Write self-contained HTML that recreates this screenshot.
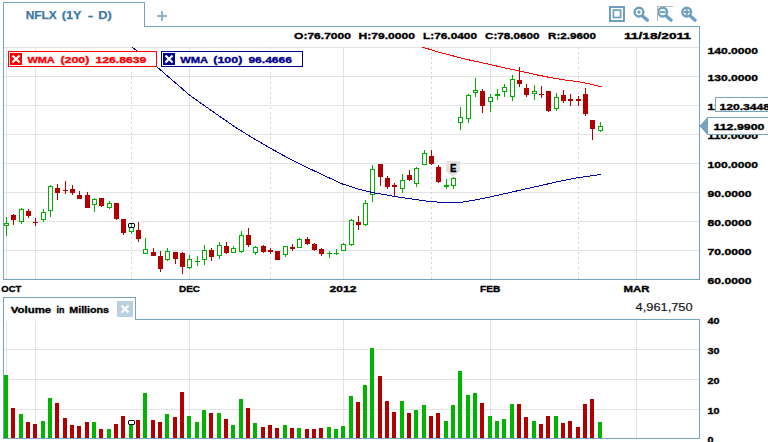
<!DOCTYPE html><html><head><meta charset="utf-8"><style>html,body{margin:0;padding:0;background:#fff}body{width:768px;height:442px;overflow:hidden;font-family:"Liberation Sans",sans-serif}</style></head><body>
<svg width="768" height="442" viewBox="0 0 768 442" style="display:block" font-family="Liberation Sans, sans-serif">
<rect width="768" height="442" fill="#fff"/>
<g shape-rendering="crispEdges">
<rect x="4" y="47" width="695" height="1" fill="#e3e3e3"/>
<rect x="4" y="76" width="695" height="1" fill="#e3e3e3"/>
<rect x="4" y="105" width="695" height="1" fill="#e3e3e3"/>
<rect x="4" y="134" width="695" height="1" fill="#e3e3e3"/>
<rect x="4" y="163" width="695" height="1" fill="#e3e3e3"/>
<rect x="4" y="192" width="695" height="1" fill="#e3e3e3"/>
<rect x="4" y="221" width="695" height="1" fill="#e3e3e3"/>
<rect x="4" y="250" width="695" height="1" fill="#e3e3e3"/>
<rect x="6" y="47" width="1" height="232" fill="#e3e3e3"/>
<rect x="6" y="321" width="1" height="117" fill="#e3e3e3"/>
<rect x="35" y="47" width="1" height="232" fill="#e3e3e3"/>
<rect x="35" y="321" width="1" height="117" fill="#e3e3e3"/>
<rect x="189" y="47" width="1" height="232" fill="#e3e3e3"/>
<rect x="189" y="320" width="1" height="118" fill="#e3e3e3"/>
<rect x="343" y="47" width="1" height="232" fill="#e3e3e3"/>
<rect x="343" y="320" width="1" height="118" fill="#e3e3e3"/>
<rect x="490" y="47" width="1" height="232" fill="#e3e3e3"/>
<rect x="490" y="320" width="1" height="118" fill="#e3e3e3"/>
<rect x="636" y="47" width="1" height="232" fill="#e3e3e3"/>
<rect x="636" y="320" width="1" height="118" fill="#e3e3e3"/>
<line x1="131.5" y1="47" x2="131.5" y2="279" stroke="#d4d4d4" stroke-width="1" stroke-dasharray="2,3"/>
<line x1="270.5" y1="47" x2="270.5" y2="279" stroke="#d4d4d4" stroke-width="1" stroke-dasharray="2,3"/>
<line x1="431.5" y1="47" x2="431.5" y2="279" stroke="#d4d4d4" stroke-width="1" stroke-dasharray="2,3"/>
<line x1="578.5" y1="47" x2="578.5" y2="279" stroke="#d4d4d4" stroke-width="1" stroke-dasharray="2,3"/>
<rect x="4" y="349" width="695" height="1" fill="#e3e3e3"/>
<rect x="4" y="379" width="695" height="1" fill="#e3e3e3"/>
<rect x="4" y="409" width="695" height="1" fill="#e3e3e3"/>
<rect x="3" y="2" width="1" height="278" fill="#76a3be"/>
<rect x="3" y="2" width="142" height="1" fill="#76a3be"/>
<rect x="144" y="2" width="1" height="25" fill="#76a3be"/>
<rect x="144" y="26" width="556" height="1" fill="#76a3be"/>
<rect x="699" y="26" width="1" height="254" fill="#76a3be"/>
<rect x="3" y="279" width="697" height="1" fill="#76a3be"/>
<rect x="3" y="297" width="1" height="142" fill="#76a3be"/>
<rect x="3" y="297" width="133" height="1" fill="#76a3be"/>
<rect x="135" y="297" width="1" height="23" fill="#76a3be"/>
<rect x="135" y="319" width="565" height="1" fill="#76a3be"/>
<rect x="699" y="319" width="1" height="120" fill="#76a3be"/>
<rect x="3" y="438" width="697" height="1" fill="#76a3be"/>
</g>
<g shape-rendering="crispEdges">
<rect x="6" y="217" width="1" height="19" fill="#00b000"/>
<rect x="4" y="223" width="5" height="3" fill="#00b000"/>
<rect x="5" y="224" width="3" height="1" fill="#fff"/>
<rect x="13" y="214" width="1" height="11" fill="#b00000"/>
<rect x="11" y="215" width="5" height="5" fill="#b00000"/>
<rect x="21" y="208" width="1" height="16" fill="#00b000"/>
<rect x="19" y="209" width="5" height="13" fill="#00b000"/>
<rect x="20" y="210" width="3" height="11" fill="#fff"/>
<rect x="28" y="209" width="1" height="9" fill="#b00000"/>
<rect x="26" y="211" width="5" height="5" fill="#b00000"/>
<rect x="35" y="218" width="1" height="8" fill="#b00000"/>
<rect x="33" y="222" width="5" height="1" fill="#b00000"/>
<rect x="43" y="209" width="1" height="13" fill="#00b000"/>
<rect x="41" y="212" width="5" height="8" fill="#00b000"/>
<rect x="42" y="213" width="3" height="6" fill="#fff"/>
<rect x="50" y="185" width="1" height="32" fill="#00b000"/>
<rect x="48" y="186" width="5" height="25" fill="#00b000"/>
<rect x="49" y="187" width="3" height="23" fill="#fff"/>
<rect x="57" y="184" width="1" height="16" fill="#b00000"/>
<rect x="55" y="188" width="5" height="5" fill="#b00000"/>
<rect x="65" y="181" width="1" height="13" fill="#b00000"/>
<rect x="63" y="190" width="5" height="1" fill="#b00000"/>
<rect x="72" y="185" width="1" height="10" fill="#b00000"/>
<rect x="70" y="189" width="5" height="4" fill="#b00000"/>
<rect x="79" y="191" width="1" height="8" fill="#b00000"/>
<rect x="77" y="195" width="5" height="4" fill="#b00000"/>
<rect x="87" y="192" width="1" height="16" fill="#b00000"/>
<rect x="85" y="195" width="5" height="13" fill="#b00000"/>
<rect x="94" y="198" width="1" height="14" fill="#00b000"/>
<rect x="92" y="199" width="5" height="6" fill="#00b000"/>
<rect x="93" y="200" width="3" height="4" fill="#fff"/>
<rect x="101" y="198" width="1" height="9" fill="#b00000"/>
<rect x="99" y="198" width="5" height="8" fill="#b00000"/>
<rect x="109" y="201" width="1" height="8" fill="#00b000"/>
<rect x="107" y="203" width="5" height="5" fill="#00b000"/>
<rect x="108" y="204" width="3" height="3" fill="#fff"/>
<rect x="116" y="203" width="1" height="17" fill="#b00000"/>
<rect x="114" y="203" width="5" height="16" fill="#b00000"/>
<rect x="123" y="219" width="1" height="16" fill="#b00000"/>
<rect x="121" y="219" width="5" height="14" fill="#b00000"/>
<rect x="131" y="224" width="1" height="10" fill="#00b000"/>
<rect x="129" y="227" width="5" height="5" fill="#00b000"/>
<rect x="130" y="228" width="3" height="3" fill="#fff"/>
<rect x="138" y="222" width="1" height="20" fill="#b00000"/>
<rect x="136" y="230" width="5" height="9" fill="#b00000"/>
<rect x="145" y="238" width="1" height="16" fill="#00b000"/>
<rect x="143" y="249" width="5" height="5" fill="#00b000"/>
<rect x="144" y="250" width="3" height="3" fill="#fff"/>
<rect x="153" y="248" width="1" height="8" fill="#b00000"/>
<rect x="151" y="252" width="5" height="4" fill="#b00000"/>
<rect x="160" y="251" width="1" height="21" fill="#b00000"/>
<rect x="158" y="256" width="5" height="13" fill="#b00000"/>
<rect x="167" y="248" width="1" height="13" fill="#00b000"/>
<rect x="165" y="251" width="5" height="9" fill="#00b000"/>
<rect x="166" y="252" width="3" height="7" fill="#fff"/>
<rect x="175" y="252" width="1" height="12" fill="#b00000"/>
<rect x="173" y="252" width="5" height="7" fill="#b00000"/>
<rect x="182" y="252" width="1" height="22" fill="#b00000"/>
<rect x="180" y="253" width="5" height="14" fill="#b00000"/>
<rect x="189" y="255" width="1" height="14" fill="#00b000"/>
<rect x="187" y="259" width="5" height="9" fill="#00b000"/>
<rect x="188" y="260" width="3" height="7" fill="#fff"/>
<rect x="197" y="256" width="1" height="10" fill="#00b000"/>
<rect x="195" y="261" width="5" height="1" fill="#00b000"/>
<rect x="204" y="245" width="1" height="20" fill="#00b000"/>
<rect x="202" y="250" width="5" height="10" fill="#00b000"/>
<rect x="203" y="251" width="3" height="8" fill="#fff"/>
<rect x="211" y="248" width="1" height="13" fill="#b00000"/>
<rect x="209" y="250" width="5" height="7" fill="#b00000"/>
<rect x="219" y="242" width="1" height="17" fill="#00b000"/>
<rect x="217" y="245" width="5" height="11" fill="#00b000"/>
<rect x="218" y="246" width="3" height="9" fill="#fff"/>
<rect x="226" y="242" width="1" height="12" fill="#b00000"/>
<rect x="224" y="246" width="5" height="7" fill="#b00000"/>
<rect x="233" y="246" width="1" height="7" fill="#00b000"/>
<rect x="231" y="248" width="5" height="5" fill="#00b000"/>
<rect x="232" y="249" width="3" height="3" fill="#fff"/>
<rect x="241" y="231" width="1" height="22" fill="#00b000"/>
<rect x="239" y="235" width="5" height="17" fill="#00b000"/>
<rect x="240" y="236" width="3" height="15" fill="#fff"/>
<rect x="248" y="228" width="1" height="19" fill="#b00000"/>
<rect x="246" y="235" width="5" height="10" fill="#b00000"/>
<rect x="255" y="246" width="1" height="9" fill="#00b000"/>
<rect x="253" y="247" width="5" height="6" fill="#00b000"/>
<rect x="254" y="248" width="3" height="4" fill="#fff"/>
<rect x="263" y="245" width="1" height="8" fill="#b00000"/>
<rect x="261" y="246" width="5" height="6" fill="#b00000"/>
<rect x="270" y="248" width="1" height="6" fill="#b00000"/>
<rect x="268" y="250" width="5" height="2" fill="#b00000"/>
<rect x="277" y="251" width="1" height="9" fill="#b00000"/>
<rect x="275" y="251" width="5" height="9" fill="#b00000"/>
<rect x="285" y="246" width="1" height="11" fill="#00b000"/>
<rect x="283" y="246" width="5" height="9" fill="#00b000"/>
<rect x="284" y="247" width="3" height="7" fill="#fff"/>
<rect x="292" y="244" width="1" height="7" fill="#b00000"/>
<rect x="290" y="247" width="5" height="2" fill="#b00000"/>
<rect x="299" y="238" width="1" height="10" fill="#00b000"/>
<rect x="297" y="239" width="5" height="9" fill="#00b000"/>
<rect x="298" y="240" width="3" height="7" fill="#fff"/>
<rect x="307" y="237" width="1" height="8" fill="#b00000"/>
<rect x="305" y="239" width="5" height="5" fill="#b00000"/>
<rect x="314" y="243" width="1" height="8" fill="#b00000"/>
<rect x="312" y="244" width="5" height="6" fill="#b00000"/>
<rect x="321" y="248" width="1" height="8" fill="#b00000"/>
<rect x="319" y="249" width="5" height="5" fill="#b00000"/>
<rect x="329" y="251" width="1" height="7" fill="#00b000"/>
<rect x="327" y="253" width="5" height="1" fill="#00b000"/>
<rect x="336" y="249" width="1" height="6" fill="#00b000"/>
<rect x="334" y="253" width="5" height="1" fill="#00b000"/>
<rect x="343" y="243" width="1" height="8" fill="#00b000"/>
<rect x="341" y="244" width="5" height="7" fill="#00b000"/>
<rect x="342" y="245" width="3" height="5" fill="#fff"/>
<rect x="351" y="219" width="1" height="27" fill="#00b000"/>
<rect x="349" y="220" width="5" height="25" fill="#00b000"/>
<rect x="350" y="221" width="3" height="23" fill="#fff"/>
<rect x="358" y="216" width="1" height="14" fill="#b00000"/>
<rect x="356" y="222" width="5" height="3" fill="#b00000"/>
<rect x="365" y="200" width="1" height="26" fill="#00b000"/>
<rect x="363" y="203" width="5" height="22" fill="#00b000"/>
<rect x="364" y="204" width="3" height="20" fill="#fff"/>
<rect x="372" y="165" width="1" height="37" fill="#00b000"/>
<rect x="370" y="169" width="5" height="26" fill="#00b000"/>
<rect x="371" y="170" width="3" height="24" fill="#fff"/>
<rect x="380" y="164" width="1" height="22" fill="#b00000"/>
<rect x="378" y="164" width="5" height="13" fill="#b00000"/>
<rect x="387" y="176" width="1" height="13" fill="#b00000"/>
<rect x="385" y="178" width="5" height="9" fill="#b00000"/>
<rect x="394" y="183" width="1" height="14" fill="#b00000"/>
<rect x="392" y="185" width="5" height="2" fill="#b00000"/>
<rect x="402" y="174" width="1" height="19" fill="#00b000"/>
<rect x="400" y="180" width="5" height="9" fill="#00b000"/>
<rect x="401" y="181" width="3" height="7" fill="#fff"/>
<rect x="409" y="170" width="1" height="11" fill="#b00000"/>
<rect x="407" y="175" width="5" height="5" fill="#b00000"/>
<rect x="416" y="167" width="1" height="20" fill="#00b000"/>
<rect x="414" y="168" width="5" height="16" fill="#00b000"/>
<rect x="415" y="169" width="3" height="14" fill="#fff"/>
<rect x="424" y="150" width="1" height="15" fill="#00b000"/>
<rect x="422" y="153" width="5" height="12" fill="#00b000"/>
<rect x="423" y="154" width="3" height="10" fill="#fff"/>
<rect x="431" y="150" width="1" height="15" fill="#b00000"/>
<rect x="429" y="156" width="5" height="8" fill="#b00000"/>
<rect x="438" y="165" width="1" height="18" fill="#b00000"/>
<rect x="436" y="167" width="5" height="15" fill="#b00000"/>
<rect x="446" y="179" width="1" height="10" fill="#00b000"/>
<rect x="444" y="185" width="5" height="2" fill="#00b000"/>
<rect x="453" y="177" width="1" height="12" fill="#00b000"/>
<rect x="451" y="178" width="5" height="8" fill="#00b000"/>
<rect x="452" y="179" width="3" height="6" fill="#fff"/>
<rect x="460" y="107" width="1" height="23" fill="#00b000"/>
<rect x="458" y="117" width="5" height="6" fill="#00b000"/>
<rect x="459" y="118" width="3" height="4" fill="#fff"/>
<rect x="468" y="94" width="1" height="29" fill="#00b000"/>
<rect x="466" y="95" width="5" height="24" fill="#00b000"/>
<rect x="467" y="96" width="3" height="22" fill="#fff"/>
<rect x="475" y="78" width="1" height="19" fill="#00b000"/>
<rect x="473" y="90" width="5" height="3" fill="#00b000"/>
<rect x="474" y="91" width="3" height="1" fill="#fff"/>
<rect x="482" y="89" width="1" height="24" fill="#b00000"/>
<rect x="480" y="91" width="5" height="15" fill="#b00000"/>
<rect x="490" y="94" width="1" height="18" fill="#00b000"/>
<rect x="488" y="97" width="5" height="5" fill="#00b000"/>
<rect x="489" y="98" width="3" height="3" fill="#fff"/>
<rect x="497" y="89" width="1" height="11" fill="#00b000"/>
<rect x="495" y="94" width="5" height="2" fill="#00b000"/>
<rect x="504" y="84" width="1" height="13" fill="#00b000"/>
<rect x="502" y="87" width="5" height="5" fill="#00b000"/>
<rect x="503" y="88" width="3" height="3" fill="#fff"/>
<rect x="512" y="75" width="1" height="26" fill="#00b000"/>
<rect x="510" y="79" width="5" height="18" fill="#00b000"/>
<rect x="511" y="80" width="3" height="16" fill="#fff"/>
<rect x="519" y="67" width="1" height="20" fill="#b00000"/>
<rect x="517" y="80" width="5" height="4" fill="#b00000"/>
<rect x="526" y="84" width="1" height="13" fill="#b00000"/>
<rect x="524" y="88" width="5" height="7" fill="#b00000"/>
<rect x="534" y="85" width="1" height="15" fill="#00b000"/>
<rect x="532" y="91" width="5" height="3" fill="#00b000"/>
<rect x="533" y="92" width="3" height="1" fill="#fff"/>
<rect x="541" y="86" width="1" height="12" fill="#b00000"/>
<rect x="539" y="94" width="5" height="1" fill="#b00000"/>
<rect x="548" y="91" width="1" height="21" fill="#b00000"/>
<rect x="546" y="91" width="5" height="20" fill="#b00000"/>
<rect x="556" y="93" width="1" height="18" fill="#00b000"/>
<rect x="554" y="97" width="5" height="12" fill="#00b000"/>
<rect x="555" y="98" width="3" height="10" fill="#fff"/>
<rect x="563" y="90" width="1" height="13" fill="#b00000"/>
<rect x="561" y="95" width="5" height="6" fill="#b00000"/>
<rect x="570" y="94" width="1" height="12" fill="#b00000"/>
<rect x="568" y="99" width="5" height="2" fill="#b00000"/>
<rect x="578" y="96" width="1" height="10" fill="#b00000"/>
<rect x="576" y="99" width="5" height="2" fill="#b00000"/>
<rect x="585" y="88" width="1" height="28" fill="#b00000"/>
<rect x="583" y="94" width="5" height="20" fill="#b00000"/>
<rect x="592" y="120" width="1" height="20" fill="#b00000"/>
<rect x="590" y="120" width="5" height="9" fill="#b00000"/>
<rect x="600" y="122" width="1" height="10" fill="#00b000"/>
<rect x="598" y="126" width="5" height="5" fill="#00b000"/>
<rect x="599" y="127" width="3" height="3" fill="#fff"/>
<rect x="4" y="375" width="4" height="63" fill="#00b400"/>
<rect x="11" y="408" width="4" height="30" fill="#b00000"/>
<rect x="19" y="414" width="4" height="24" fill="#00b400"/>
<rect x="26" y="422" width="4" height="16" fill="#b00000"/>
<rect x="33" y="424" width="4" height="14" fill="#b00000"/>
<rect x="41" y="421" width="4" height="17" fill="#00b400"/>
<rect x="48" y="398" width="4" height="40" fill="#00b400"/>
<rect x="55" y="403" width="4" height="35" fill="#b00000"/>
<rect x="63" y="418" width="4" height="20" fill="#b00000"/>
<rect x="70" y="425" width="4" height="13" fill="#b00000"/>
<rect x="77" y="426" width="4" height="12" fill="#b00000"/>
<rect x="85" y="422" width="4" height="16" fill="#b00000"/>
<rect x="92" y="422" width="4" height="16" fill="#00b400"/>
<rect x="99" y="429" width="4" height="9" fill="#b00000"/>
<rect x="107" y="429" width="4" height="9" fill="#00b400"/>
<rect x="114" y="424" width="4" height="14" fill="#b00000"/>
<rect x="121" y="416" width="4" height="22" fill="#b00000"/>
<rect x="129" y="424" width="4" height="14" fill="#00b400"/>
<rect x="136" y="420" width="4" height="18" fill="#b00000"/>
<rect x="143" y="393" width="4" height="45" fill="#00b400"/>
<rect x="151" y="420" width="4" height="18" fill="#b00000"/>
<rect x="158" y="422" width="4" height="16" fill="#b00000"/>
<rect x="165" y="414" width="4" height="24" fill="#00b400"/>
<rect x="173" y="417" width="4" height="21" fill="#b00000"/>
<rect x="180" y="392" width="4" height="46" fill="#b00000"/>
<rect x="187" y="416" width="4" height="22" fill="#00b400"/>
<rect x="195" y="422" width="4" height="16" fill="#00b400"/>
<rect x="202" y="410" width="4" height="28" fill="#00b400"/>
<rect x="209" y="413" width="4" height="25" fill="#b00000"/>
<rect x="217" y="413" width="4" height="25" fill="#00b400"/>
<rect x="224" y="419" width="4" height="19" fill="#b00000"/>
<rect x="231" y="425" width="4" height="13" fill="#00b400"/>
<rect x="239" y="399" width="4" height="39" fill="#00b400"/>
<rect x="246" y="408" width="4" height="30" fill="#b00000"/>
<rect x="253" y="423" width="4" height="15" fill="#00b400"/>
<rect x="261" y="427" width="4" height="11" fill="#b00000"/>
<rect x="268" y="425" width="4" height="13" fill="#b00000"/>
<rect x="275" y="428" width="4" height="10" fill="#b00000"/>
<rect x="283" y="425" width="4" height="13" fill="#00b400"/>
<rect x="290" y="428" width="4" height="10" fill="#b00000"/>
<rect x="297" y="428" width="4" height="10" fill="#00b400"/>
<rect x="305" y="429" width="4" height="9" fill="#b00000"/>
<rect x="312" y="429" width="4" height="9" fill="#b00000"/>
<rect x="319" y="428" width="4" height="10" fill="#b00000"/>
<rect x="327" y="427" width="4" height="11" fill="#00b400"/>
<rect x="334" y="429" width="4" height="9" fill="#00b400"/>
<rect x="341" y="426" width="4" height="12" fill="#00b400"/>
<rect x="349" y="396" width="4" height="42" fill="#00b400"/>
<rect x="356" y="402" width="4" height="36" fill="#b00000"/>
<rect x="363" y="385" width="4" height="53" fill="#00b400"/>
<rect x="370" y="348" width="4" height="90" fill="#00b400"/>
<rect x="378" y="376" width="4" height="62" fill="#b00000"/>
<rect x="385" y="401" width="4" height="37" fill="#b00000"/>
<rect x="392" y="412" width="4" height="26" fill="#b00000"/>
<rect x="400" y="401" width="4" height="37" fill="#00b400"/>
<rect x="407" y="413" width="4" height="25" fill="#b00000"/>
<rect x="414" y="410" width="4" height="28" fill="#00b400"/>
<rect x="422" y="405" width="4" height="33" fill="#00b400"/>
<rect x="429" y="416" width="4" height="22" fill="#b00000"/>
<rect x="436" y="413" width="4" height="25" fill="#b00000"/>
<rect x="444" y="421" width="4" height="17" fill="#00b400"/>
<rect x="451" y="405" width="4" height="33" fill="#00b400"/>
<rect x="458" y="371" width="4" height="67" fill="#00b400"/>
<rect x="466" y="395" width="4" height="43" fill="#00b400"/>
<rect x="473" y="393" width="4" height="45" fill="#00b400"/>
<rect x="480" y="403" width="4" height="35" fill="#b00000"/>
<rect x="488" y="416" width="4" height="22" fill="#00b400"/>
<rect x="495" y="421" width="4" height="17" fill="#00b400"/>
<rect x="502" y="419" width="4" height="19" fill="#00b400"/>
<rect x="510" y="404" width="4" height="34" fill="#00b400"/>
<rect x="517" y="404" width="4" height="34" fill="#b00000"/>
<rect x="524" y="417" width="4" height="21" fill="#b00000"/>
<rect x="532" y="421" width="4" height="17" fill="#00b400"/>
<rect x="539" y="424" width="4" height="14" fill="#b00000"/>
<rect x="546" y="416" width="4" height="22" fill="#b00000"/>
<rect x="554" y="416" width="4" height="22" fill="#00b400"/>
<rect x="561" y="423" width="4" height="15" fill="#b00000"/>
<rect x="568" y="421" width="4" height="17" fill="#b00000"/>
<rect x="576" y="427" width="4" height="11" fill="#b00000"/>
<rect x="583" y="404" width="4" height="34" fill="#b00000"/>
<rect x="590" y="399" width="4" height="39" fill="#b00000"/>
<rect x="598" y="422" width="4" height="16" fill="#00b400"/>
</g>
<polyline fill="none" stroke="#0000a0" stroke-width="1" shape-rendering="crispEdges" points="132,47 156.5,66.5 190,95.5 212,111 235,127 252,137.5 270,148 288,158 305,166.5 324,175.5 342.5,184 358,189 372.5,192.5 395,196.5 415,199.5 428,201.3 442,202.4 461,202.4 476,199.8 490,197 510,192.5 532,187.5 555,182.3 576,178 590,176 601,174.5"/>
<polyline fill="none" stroke="#ff0000" stroke-width="1" shape-rendering="crispEdges" points="422,47 440,52.5 465,59 490,64.5 505,68 520,71 535,74.5 550,77.5 565,80 580,82 590,84 601.5,86.8"/>
<g shape-rendering="crispEdges">
<rect x="129" y="223" width="5" height="1" fill="#000"/><rect x="129" y="227" width="5" height="1" fill="#000"/>
<rect x="128" y="224" width="1" height="3" fill="#000"/><rect x="134" y="224" width="1" height="3" fill="#000"/>
<rect x="128" y="223" width="1" height="1" fill="#000" fill-opacity="0.35"/><rect x="134" y="223" width="1" height="1" fill="#000" fill-opacity="0.35"/><rect x="128" y="227" width="1" height="1" fill="#000" fill-opacity="0.35"/><rect x="134" y="227" width="1" height="1" fill="#000" fill-opacity="0.35"/>
</g>
<g shape-rendering="crispEdges">
<rect x="129" y="421" width="5" height="3" fill="#fff"/>
<rect x="129" y="420" width="5" height="1" fill="#000"/><rect x="129" y="424" width="5" height="1" fill="#000"/>
<rect x="128" y="421" width="1" height="3" fill="#000"/><rect x="134" y="421" width="1" height="3" fill="#000"/>
<rect x="128" y="420" width="1" height="1" fill="#000" fill-opacity="0.35"/><rect x="134" y="420" width="1" height="1" fill="#000" fill-opacity="0.35"/><rect x="128" y="424" width="1" height="1" fill="#000" fill-opacity="0.35"/><rect x="134" y="424" width="1" height="1" fill="#000" fill-opacity="0.35"/>
</g>
<path d="M446 161H460V171L453 177L446 171Z" fill="#e2e2e2"/>
<text x="450" y="172" font-size="11" font-weight="bold" fill="#000" stroke="#000" stroke-width="0.3" textLength="6.5" lengthAdjust="spacingAndGlyphs">E</text>
<text x="25.7" y="19" font-size="11" font-weight="bold" fill="#3d78a6" textLength="31.1" lengthAdjust="spacingAndGlyphs" stroke="#3d78a6" stroke-width="0.25">NFLX</text>
<text x="61.7" y="19" font-size="11" font-weight="bold" fill="#3d78a6" textLength="19.7" lengthAdjust="spacingAndGlyphs" stroke="#3d78a6" stroke-width="0.25">(1Y</text>
<text x="87.7" y="19" font-size="11" font-weight="bold" fill="#3d78a6" textLength="5.4" lengthAdjust="spacingAndGlyphs" stroke="#3d78a6" stroke-width="0.25">-</text>
<text x="98.3" y="19" font-size="11" font-weight="bold" fill="#3d78a6" textLength="13.5" lengthAdjust="spacingAndGlyphs" stroke="#3d78a6" stroke-width="0.25">D)</text>
<g shape-rendering="crispEdges"><rect x="157" y="15" width="10" height="2" fill="#8fb5cc"/><rect x="161" y="11" width="2" height="10" fill="#8fb5cc"/></g>
<text x="294" y="39" font-size="9.6" font-weight="bold" fill="#000" textLength="57" lengthAdjust="spacingAndGlyphs" stroke="#000" stroke-width="0.35">O:76.7000</text>
<text x="358.5" y="39" font-size="9.6" font-weight="bold" fill="#000" textLength="56.5" lengthAdjust="spacingAndGlyphs" stroke="#000" stroke-width="0.35">H:79.0000</text>
<text x="423" y="39" font-size="9.6" font-weight="bold" fill="#000" textLength="54" lengthAdjust="spacingAndGlyphs" stroke="#000" stroke-width="0.35">L:76.0400</text>
<text x="485" y="39" font-size="9.6" font-weight="bold" fill="#000" textLength="54.5" lengthAdjust="spacingAndGlyphs" stroke="#000" stroke-width="0.35">C:78.0600</text>
<text x="548" y="39" font-size="9.6" font-weight="bold" fill="#000" textLength="48" lengthAdjust="spacingAndGlyphs" stroke="#000" stroke-width="0.35">R:2.9600</text>
<text x="624" y="39" font-size="9.6" font-weight="bold" fill="#000" textLength="67" lengthAdjust="spacingAndGlyphs" stroke="#000" stroke-width="0.35">11/18/2011</text>
<g shape-rendering="crispEdges">
<rect x="8.5" y="51.5" width="148" height="15" fill="#fff" stroke="#ff0000" stroke-width="1"/>
<rect x="10" y="53" width="12" height="12" fill="#ff0000"/>
<rect x="161.5" y="51.5" width="141" height="15" fill="#fff" stroke="#000090" stroke-width="1"/>
<rect x="163" y="53" width="12" height="12" fill="#000090"/>
</g>
<path d="M12.5 55.5L19.5 62.5M19.5 55.5L12.5 62.5" stroke="#fff" stroke-width="2.2"/>
<path d="M165.5 55.5L172.5 62.5M172.5 55.5L165.5 62.5" stroke="#fff" stroke-width="2.2"/>
<text x="27.4" y="63.1" font-size="9.6" font-weight="bold" fill="#ff0000" textLength="27.4" lengthAdjust="spacingAndGlyphs" stroke="#ff0000" stroke-width="0.35">WMA</text>
<text x="60.5" y="63.1" font-size="9.6" font-weight="bold" fill="#ff0000" textLength="28.8" lengthAdjust="spacingAndGlyphs" stroke="#ff0000" stroke-width="0.35">(200)</text>
<text x="95.4" y="63.1" font-size="9.6" font-weight="bold" fill="#ff0000" textLength="50.9" lengthAdjust="spacingAndGlyphs" stroke="#ff0000" stroke-width="0.35">126.8639</text>
<text x="180.2" y="63.1" font-size="9.6" font-weight="bold" fill="#000090" textLength="28.0" lengthAdjust="spacingAndGlyphs" stroke="#000090" stroke-width="0.35">WMA</text>
<text x="213.3" y="63.1" font-size="9.6" font-weight="bold" fill="#000090" textLength="29.0" lengthAdjust="spacingAndGlyphs" stroke="#000090" stroke-width="0.35">(100)</text>
<text x="248.4" y="63.1" font-size="9.6" font-weight="bold" fill="#000090" textLength="43.6" lengthAdjust="spacingAndGlyphs" stroke="#000090" stroke-width="0.35">96.4666</text>
<text x="707.5" y="54.2" font-size="9.6" font-weight="bold" fill="#000" textLength="50.5" lengthAdjust="spacingAndGlyphs" stroke="#000" stroke-width="0.35">140.0000</text>
<text x="707.5" y="80.8" font-size="9.6" font-weight="bold" fill="#000" textLength="50.5" lengthAdjust="spacingAndGlyphs" stroke="#000" stroke-width="0.35">130.0000</text>
<text x="707.5" y="109.8" font-size="9.6" font-weight="bold" fill="#000" textLength="50.5" lengthAdjust="spacingAndGlyphs" stroke="#000" stroke-width="0.35">120.0000</text>
<text x="707.5" y="138.8" font-size="9.6" font-weight="bold" fill="#000" textLength="50.5" lengthAdjust="spacingAndGlyphs" stroke="#000" stroke-width="0.35">110.0000</text>
<text x="707.5" y="167.8" font-size="9.6" font-weight="bold" fill="#000" textLength="50.5" lengthAdjust="spacingAndGlyphs" stroke="#000" stroke-width="0.35">100.0000</text>
<text x="707.5" y="196.8" font-size="9.6" font-weight="bold" fill="#000" textLength="44" lengthAdjust="spacingAndGlyphs" stroke="#000" stroke-width="0.35">90.0000</text>
<text x="707.5" y="225.8" font-size="9.6" font-weight="bold" fill="#000" textLength="44" lengthAdjust="spacingAndGlyphs" stroke="#000" stroke-width="0.35">80.0000</text>
<text x="707.5" y="254.8" font-size="9.6" font-weight="bold" fill="#000" textLength="44" lengthAdjust="spacingAndGlyphs" stroke="#000" stroke-width="0.35">70.0000</text>
<text x="707.5" y="283.8" font-size="9.6" font-weight="bold" fill="#000" textLength="44" lengthAdjust="spacingAndGlyphs" stroke="#000" stroke-width="0.35">60.0000</text>
<g shape-rendering="crispEdges">
<rect x="715.5" y="97.5" width="60" height="14" fill="#fff" stroke="#76a3be" stroke-width="1"/>
<rect x="707.5" y="117.5" width="70" height="17" fill="#fff" stroke="#76a3be" stroke-width="1"/>
</g>
<path d="M699.5 126L707.5 117V135Z" fill="#76a3be"/>
<text x="719.5" y="109.5" font-size="9.6" font-weight="bold" fill="#000" textLength="50.5" lengthAdjust="spacingAndGlyphs" stroke="#000" stroke-width="0.35">120.3448</text>
<text x="713.5" y="130" font-size="9.6" font-weight="bold" fill="#000" textLength="51" lengthAdjust="spacingAndGlyphs" stroke="#000" stroke-width="0.35">112.9900</text>
<text x="1.3" y="292" font-size="9.6" font-weight="bold" fill="#000" textLength="20" lengthAdjust="spacingAndGlyphs" stroke="#000" stroke-width="0.35">OCT</text>
<text x="179" y="292" font-size="9.6" font-weight="bold" fill="#000" textLength="21" lengthAdjust="spacingAndGlyphs" stroke="#000" stroke-width="0.35">DEC</text>
<text x="329.5" y="292" font-size="9.6" font-weight="bold" fill="#000" textLength="27" lengthAdjust="spacingAndGlyphs" stroke="#000" stroke-width="0.35">2012</text>
<text x="480" y="292" font-size="9.6" font-weight="bold" fill="#000" textLength="20.3" lengthAdjust="spacingAndGlyphs" stroke="#000" stroke-width="0.35">FEB</text>
<text x="623.5" y="292" font-size="9.6" font-weight="bold" fill="#000" textLength="26" lengthAdjust="spacingAndGlyphs" stroke="#000" stroke-width="0.35">MAR</text>
<text x="10.8" y="313.2" font-size="9.6" font-weight="bold" fill="#000" textLength="40.4" lengthAdjust="spacingAndGlyphs" stroke="#000" stroke-width="0.35">Volume</text>
<text x="56.6" y="313.2" font-size="9.6" font-weight="bold" fill="#000" textLength="7.9" lengthAdjust="spacingAndGlyphs" stroke="#000" stroke-width="0.35">in</text>
<text x="69.3" y="313.2" font-size="9.6" font-weight="bold" fill="#000" textLength="39.7" lengthAdjust="spacingAndGlyphs" stroke="#000" stroke-width="0.35">Millions</text>
<rect x="117" y="301" width="16" height="16" fill="#b9d1df" shape-rendering="crispEdges"/>
<path d="M121.5 305.5L128.5 312.5M128.5 305.5L121.5 312.5" stroke="#fff" stroke-width="2.2"/>
<text x="635.6" y="311" font-size="11" font-weight="normal" fill="#111" textLength="57" lengthAdjust="spacingAndGlyphs" stroke="#111" stroke-width="0.15">4,961,750</text>
<text x="707.5" y="324.2" font-size="9.6" font-weight="bold" fill="#000" textLength="12" lengthAdjust="spacingAndGlyphs" stroke="#000" stroke-width="0.35">40</text>
<text x="707.5" y="354.2" font-size="9.6" font-weight="bold" fill="#000" textLength="12" lengthAdjust="spacingAndGlyphs" stroke="#000" stroke-width="0.35">30</text>
<text x="707.5" y="384.2" font-size="9.6" font-weight="bold" fill="#000" textLength="12" lengthAdjust="spacingAndGlyphs" stroke="#000" stroke-width="0.35">20</text>
<text x="707.5" y="414.2" font-size="9.6" font-weight="bold" fill="#000" textLength="12" lengthAdjust="spacingAndGlyphs" stroke="#000" stroke-width="0.35">10</text>
<text x="707.5" y="443.2" font-size="9.6" font-weight="bold" fill="#000" textLength="6" lengthAdjust="spacingAndGlyphs" stroke="#000" stroke-width="0.35">0</text>
<g fill="none" stroke="#6f9fbc"><rect x="610" y="7" width="14" height="14" stroke-width="2" shape-rendering="crispEdges"/><rect x="613.4" y="10.1" width="7.2" height="7.4" stroke-width="1.7"/>
<circle cx="639" cy="12.1" r="4.4" stroke-width="2.4"/><path d="M642.8 16.2L647.4 20.2" stroke-width="3.3" stroke-linecap="round"/>
<circle cx="662.7" cy="12.1" r="4.4" stroke-width="2.4"/><path d="M666.5 16.2L671.1 20.2" stroke-width="3.3" stroke-linecap="round"/>
<circle cx="686.7" cy="12.1" r="4.4" stroke-width="2.4"/><path d="M690.5 16.2L695.1 20.2" stroke-width="3.3" stroke-linecap="round"/>
</g>
<circle cx="639" cy="12.1" r="1.7" fill="#6f9fbc"/>
<path d="M659.9 12.1H665.5" stroke="#6f9fbc" stroke-width="2"/>
<path d="M683.9 12.1H689.5M686.7 9.3V14.9" stroke="#6f9fbc" stroke-width="2"/>
<path d="M657.5 21V6.5H673" fill="none" stroke="#b8b8b8" stroke-width="1" shape-rendering="crispEdges"/>
</svg>
</body></html>
